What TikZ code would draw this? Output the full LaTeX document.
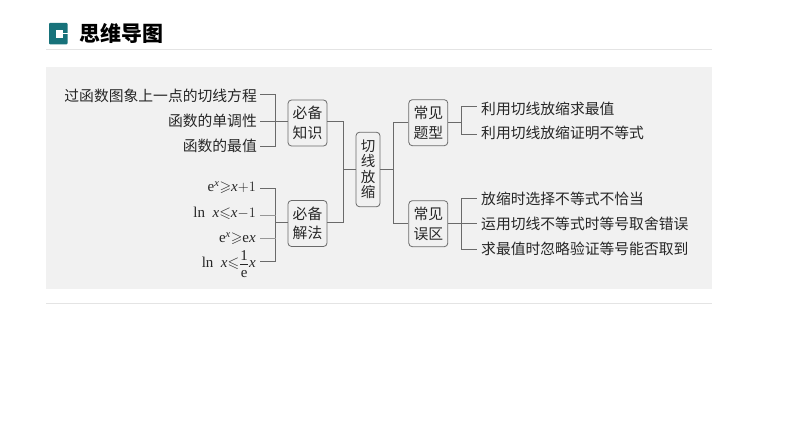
\documentclass[tikz,border=0pt]{standalone}
\usepackage{amsmath,amssymb}
\usepackage{fontspec}
\setmainfont{Liberation Serif}
\newfontfamily\cjk{Noto Sans CJK SC}
\definecolor{panelc}{HTML}{F1F1F1}
\definecolor{linec}{HTML}{6A6A6A}
\definecolor{textc}{HTML}{262626}
\definecolor{teal}{HTML}{17727A}
\definecolor{rulec}{HTML}{E4E4E4}
\newcommand{\vx}{\textit{x}}
\newcommand{\vge}{{\geqslant}}
\newcommand{\vle}{{\leqslant}}
\tikzset{
  conn/.style={draw=linec,line width=0.9bp},
  cbox/.style={draw=linec,line width=0.8bp,fill=panelc,rounded corners=3.5bp,inner sep=0pt,minimum width=39bp,minimum height=46bp,align=center,text=textc,font=\cjk\fontsize{14.8bp}{19.5bp}\selectfont},
  ltext/.style={anchor=west,inner sep=0pt,text=textc,font=\cjk\fontsize{14.8bp}{16bp}\selectfont},
  rtext/.style={anchor=east,inner sep=0pt,text=textc,font=\cjk\fontsize{14.8bp}{16bp}\selectfont},
  mtext/.style={anchor=east,inner sep=0pt,text=textc,font=\fontsize{15bp}{16bp}\selectfont},
}
\begin{document}
\begin{tikzpicture}[x=1bp,y=-1bp]
\useasboundingbox (0,0) rectangle (794,447);
\fill[white] (0,0) rectangle (794,447);
% header
\fill[teal,rounded corners=1bp] (49,23) rectangle (67.5,44.5);
\fill[white] (56,30) rectangle (62.5,38);
\fill[white] (62,33) rectangle (67.5,34.2);
\node[anchor=west,inner sep=0pt,text=black,font=\cjk\bfseries\fontsize{21bp}{24bp}\selectfont] (title) at (79.5,33.5) {思维导图};
\draw[rulec,line width=0.8bp] (46,49.5) -- (712,49.5);
\draw[rulec,line width=0.8bp] (46,303.5) -- (712,303.5);
\fill[panelc] (46,67) rectangle (712,289.5);
% boxes
\node[cbox] (b1) at (307.5,123) {必备\\知识};
\node[cbox] (b2) at (307.5,223.5) {必备\\解法};
\node[cbox,minimum width=24bp,minimum height=74.5bp,font=\cjk\fontsize{14.5bp}{15.5bp}\selectfont] (c) at (368,169.5) {切\\线\\放\\缩};
\node[cbox] (b3) at (428.3,122.7) {常见\\题型};
\node[cbox] (b4) at (428.3,223.7) {常见\\误区};
% left text
\node[rtext] (t1) at (257,96) {过函数图象上一点的切线方程};
\node[rtext] (t2) at (257,120.5) {函数的单调性};
\node[rtext] (t3) at (257,145.5) {函数的最值};
\node[mtext] (m1) at (256,188) {e$^{\vx}\vge\vx{+}1$};
\node[mtext] (m2) at (256,213) {ln\ \ $\vx\vle\vx{-}1$};
\node[mtext] (m3) at (256,238.5) {e$^{\vx}\vge$e$\vx$};
\node[mtext,anchor=base east] (m4) at (256,267.5) {ln\ \ $\vx\vle\dfrac{\smash{\raisebox{-3bp}{1}}}{\text{e}}\vx$};
% right text
\node[ltext] (r1) at (481,109) {利用切线放缩求最值};
\node[ltext] (r2) at (481,133) {利用切线放缩证明不等式};
\node[ltext] (r3) at (481,198.5) {放缩时选择不等式不恰当};
\node[ltext] (r4) at (481,223.5) {运用切线不等式时等号取舍错误};
\node[ltext] (r5) at (481,248.5) {求最值时忽略验证等号能否取到};
% junctions
\coordinate (ja) at (275.5,121.5);
\coordinate (jb) at (275.5,222.5);
\coordinate (jm) at (343.5,169.5);
\coordinate (jn) at (393.5,169.5);
\coordinate (jc) at (461.5,122.5);
\coordinate (jd) at (461.5,223.5);
% left brackets
\draw[conn] ([xshift=3bp]t1.east |- 0,94.5) -| (ja) |- ([xshift=3bp]t3.east |- 0,146.5);
\draw[conn] ([xshift=3bp]t2.east |- ja) -- (b1.west |- ja);
\draw[conn] ([xshift=4bp]m1.east |- 0,188.5) -| (jb) |- ([xshift=4bp]m4.east |- 0,261.5);
\draw[conn,line width=1.2bp,draw=linec!70] ([xshift=4bp]m2.east |- 0,215.5) -- (jb |- 0,215.5);
\draw[conn,line width=1.2bp,draw=linec!70] ([xshift=4bp]m3.east |- 0,238.5) -- (jb |- 0,238.5);
\draw[conn] (jb) -- (b2.west |- jb);
% centre
\draw[conn] (b1.east |- ja) -| (jm) |- (b2.east |- jb);
\draw[conn] (jm) -- (c.west |- jm);
\draw[conn] (c.east |- jm) -- (jn);
\draw[conn] (b3.west |- jc) -| (jn) |- (b4.west |- jd);
% right brackets
\draw[conn] (b3.east |- jc) -- (jc);
\draw[conn] (476.7,106.5) -| (jc) |- (476.7,134.5);
\draw[conn] (b4.east |- jd) -- (jd) -- (476.7,223.5);
\draw[conn] (476.7,198.5) -| (jd) |- (476.7,249.5);
\end{tikzpicture}
\end{document}
